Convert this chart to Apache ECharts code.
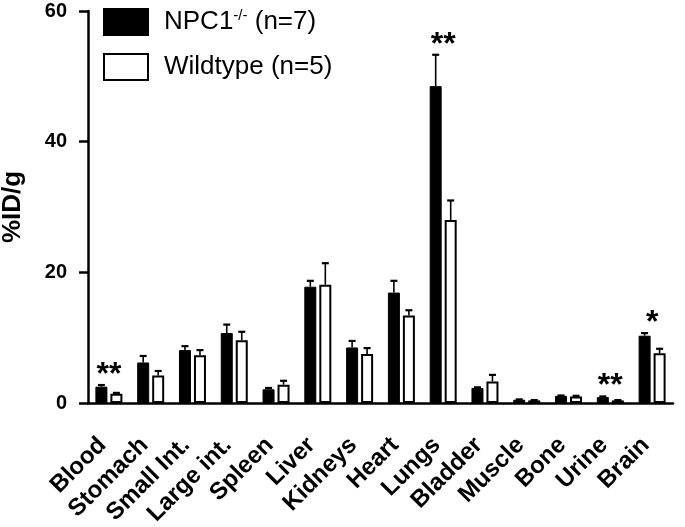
<!DOCTYPE html>
<html>
<head>
<meta charset="utf-8">
<script src="https://cdn.jsdelivr.net/npm/echarts@6/dist/echarts.min.js"></script>
<style>
html,body{margin:0;padding:0;background:#fff;}
#chart{width:685px;height:527px;}
</style>
</head>
<body>
<div id="chart"></div>
<script>
// ---- data ----
var categories = ['Blood','Stomach','Small Int.','Large int.','Spleen','Liver','Kidneys','Heart','Lungs','Bladder','Muscle','Bone','Urine','Brain'];
var npc1Mean = [2.5, 6.2, 8.1, 10.7, 2.1, 17.8, 8.5, 16.9, 48.5, 2.3, 0.5, 1.1, 0.9, 10.3];
var npc1Sem  = [0.25, 1.0, 0.6, 1.3, 0.2, 0.9, 1.0, 1.8, 4.8, 0.1, 0.05, 0.05, 0.1, 0.4];
var wtMean   = [1.4, 4.2, 7.3, 9.6, 2.8, 18.1, 7.5, 13.4, 28.0, 3.3, 0.4, 1.0, 0.4, 7.6];
var wtSem    = [0.15, 0.7, 0.8, 1.3, 0.6, 3.3, 0.9, 0.8, 3.0, 1.0, 0.05, 0.1, 0.05, 0.7];
var significance = ['**','','','','','','','','**','','','','**','*'];
var yTicks = [0, 20, 40, 60];
var seriesNames = ['NPC1-/- (n=7)', 'Wildtype (n=5)'];
var legendLabels = ['NPC1{sup|-/-} (n=7)', 'Wildtype (n=5)'];
var yAxisTitle = '%ID/g';

// ---- chart ----
var FONT = 'Liberation Sans, Arial, sans-serif';
var BAR_W = 12, BAR_GAP = 3;
var OFFS = (BAR_W + BAR_GAP) / 2;

function errData(mean, sem) {
  return mean.map(function (m, i) { return [i, m, m + sem[i]]; });
}

function errRender(dir) {
  return function (params, api) {
    var c = api.value(0);
    var p0 = api.coord([c, api.value(1)]);
    var p1 = api.coord([c, api.value(2)]);
    var x = p0[0] + dir * OFFS;
    return {
      type: 'group',
      children: [
        { type: 'line', shape: { x1: x, y1: p0[1], x2: x, y2: p1[1] }, style: { stroke: '#000', lineWidth: 1.6 } },
        { type: 'line', shape: { x1: x - 3.5, y1: p1[1], x2: x + 3.5, y2: p1[1] }, style: { stroke: '#000', lineWidth: 2.2 } }
      ]
    };
  };
}

var sigData = significance.map(function (s, i) {
  return [i, Math.max(npc1Mean[i] + npc1Sem[i], wtMean[i] + wtSem[i]), s];
});

var chart = echarts.init(document.getElementById('chart'), null, { renderer: 'canvas' });
chart.setOption({
  animation: false,
  backgroundColor: '#fff',
  grid: { left: 88, top: 11, width: 585, height: 392, containLabel: false, outerBoundsMode: 'none' },
  legend: {
    orient: 'vertical',
    left: 103,
    top: 8,
    padding: 0,
    itemWidth: 44,
    itemHeight: 26,
    itemGap: 17,
    icon: 'rect',
    data: seriesNames,
    formatter: function (name) { return legendLabels[seriesNames.indexOf(name)]; },
    textStyle: {
      fontFamily: FONT, fontSize: 26, color: '#000', padding: [0, 0, 0, 11],
      rich: { sup: { fontFamily: FONT, fontSize: 15, color: '#000', padding: [0, 0, 12, 0] } }
    }
  },
  xAxis: {
    type: 'category',
    data: categories,
    axisLine: { lineStyle: { color: '#000', width: 2.5 } },
    axisTick: { alignWithLabel: true, length: 9, lineStyle: { color: '#000', width: 2.5 } },
    axisLabel: { rotate: 45, margin: 32, padding: [0, 9, 0, 0], interval: 0, color: '#000', fontFamily: FONT, fontWeight: 'bold', fontSize: 24 }
  },
  yAxis: {
    type: 'value',
    min: yTicks[0], max: yTicks[yTicks.length - 1], interval: yTicks[1] - yTicks[0],
    name: yAxisTitle,
    nameLocation: 'middle',
    nameGap: 62,
    nameTextStyle: { color: '#000', fontFamily: FONT, fontWeight: 'bold', fontSize: 26 },
    axisLine: { show: true, lineStyle: { color: '#000', width: 2.5 } },
    axisTick: { show: true, length: 9, lineStyle: { color: '#000', width: 2.5 } },
    axisLabel: { margin: 21, color: '#000', fontFamily: FONT, fontWeight: 'bold', fontSize: 20 },
    splitLine: { show: false }
  },
  series: [
    {
      name: seriesNames[0], type: 'bar', data: npc1Mean, barWidth: BAR_W, barGap: (BAR_GAP / BAR_W * 100) + '%',
      itemStyle: { color: '#000', borderColor: '#000', borderWidth: 1 }
    },
    {
      name: seriesNames[1], type: 'bar', data: wtMean, barWidth: BAR_W,
      itemStyle: { color: '#fff', borderColor: '#000', borderWidth: 2 }
    },
    { type: 'custom', data: errData(npc1Mean, npc1Sem), renderItem: errRender(-1), z: 3, silent: true },
    { type: 'custom', data: errData(wtMean, wtSem), renderItem: errRender(1), z: 3, silent: true },
    {
      type: 'custom', data: sigData, z: 4, silent: true,
      renderItem: function (params, api) {
        var p = api.coord([api.value(0), api.value(1)]);
        return {
          type: 'text',
          style: {
            text: significance[params.dataIndex], x: p[0], y: p[1] - 10,
            textAlign: 'center', textVerticalAlign: 'middle',
            font: 'bold 32px ' + FONT, fill: '#000'
          }
        };
      }
    }
  ]
});
</script>
</body>
</html>
